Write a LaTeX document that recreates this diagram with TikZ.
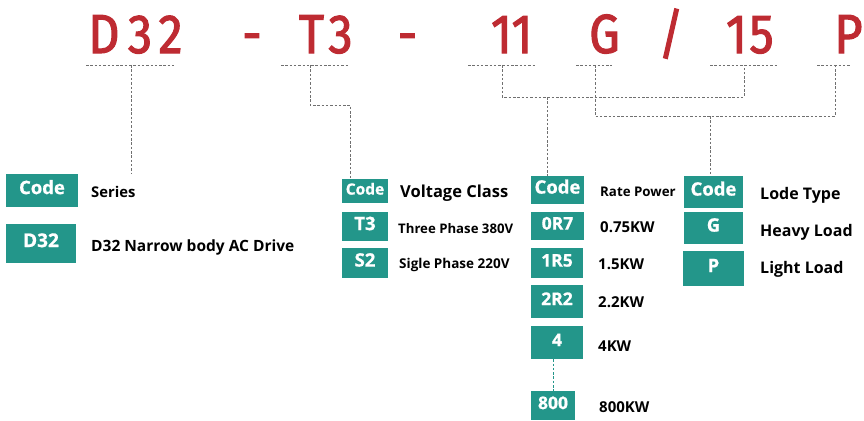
\documentclass[tikz,border=0pt]{standalone}
\usepackage{fontspec}
\setmainfont{Open Sans}
\newfontfamily\redfont[FakeStretch=0.88,FakeBold=2]{Fira Sans}
\newfontfamily\boxfont[BoldFeatures={FakeBold=0.8}]{Open Sans}
\definecolor{codered}{HTML}{BE2B32}
\definecolor{codeteal}{HTML}{23968A}
\definecolor{dashgray}{HTML}{707070}
\newcommand\fsz[1]{\fontsize{#1}{#1}\selectfont}
\begin{document}
\begin{tikzpicture}[x=1pt,y=-1pt,
  redch/.style={anchor=base, inner sep=0, text=codered, font=\redfont\fsz{55}},
  lbl/.style={anchor=base west, inner sep=0, text=black},
  tbox/.style={fill=codeteal, text=white, inner sep=0, text height=0.72em, text depth=0pt},
  dline/.style={draw=dashgray, line width=0.9pt, dash pattern=on 2.5pt off 1.8pt},
  tdline/.style={draw=codeteal, line width=0.9pt, dash pattern=on 2.5pt off 1.8pt}]
\useasboundingbox (0,0) rectangle (864,420);
% red code
\node[redch] (d1) at (104,53) {D};
\node[redch] (d2) at (140,53) {3};
\node[redch] (d3) at (170.5,53) {2};
\node[redch] (m1) at (252,53) {-};
\node[redch] (t1) at (311.5,53) {T};
\node[redch] (t2) at (340.5,53) {3};
\node[redch] (m2) at (407.5,53) {-};
\node[redch] (e1) at (501.5,53) {1};
\node[redch] (e2) at (522,53) {1};
\node[redch] (g1) at (604.5,53) {G};
\node[redch] (sl) at (671,53) {/};
\node[redch] (f1) at (736.5,53) {1};
\node[redch] (f2) at (761.5,53) {5};
\node[redch] (p1) at (848.5,53) {P};
% boxes
\node[tbox, minimum width=72, minimum height=33, font=\boxfont\bfseries\fsz{18.5}] (c1) at (42,190.5) {Code};
\node[tbox, minimum width=70, minimum height=39, font=\boxfont\bfseries\fsz{19}] (b1) at (41,243.5) {D32};
\node[tbox, minimum width=46, minimum height=24, font=\boxfont\bfseries\fsz{15.5}] (c2) at (365,191) {Code};
\node[tbox, minimum width=46, minimum height=29, font=\boxfont\bfseries\fsz{18.5}] (v1) at (365,226.5) {T3};
\node[tbox, minimum width=46, minimum height=30, font=\boxfont\bfseries\fsz{18.5}] (v2) at (365,263) {S2};
\node[tbox, minimum width=53, minimum height=28, font=\boxfont\bfseries\fsz{18.5}] (c3) at (557.5,190) {Code};
\node[tbox, minimum width=53, minimum height=28, font=\boxfont\bfseries\fsz{17.5}] (r1) at (557.5,226) {0R7};
\node[tbox, minimum width=52, minimum height=30, font=\boxfont\bfseries\fsz{17.5}] (r2) at (557,263) {1R5};
\node[tbox, minimum width=52, minimum height=33, font=\boxfont\bfseries\fsz{17.5}] (r3) at (557,301.5) {2R2};
\node[tbox, minimum width=52, minimum height=33, font=\boxfont\bfseries\fsz{17.5}] (r4) at (557,342.5) {4};
\node[tbox, minimum width=44, minimum height=29, font=\boxfont\bfseries\fsz{17.5}] (r5) at (553,405.5) {800};
\node[tbox, minimum width=59, minimum height=32, font=\boxfont\bfseries\fsz{18.5}] (c4) at (713.5,192) {Code};
\node[tbox, minimum width=59, minimum height=32, font=\boxfont\bfseries\fsz{18.5}] (l1) at (713.5,228) {G};
\node[tbox, minimum width=61, minimum height=35, font=\boxfont\bfseries\fsz{18.5}] (l2) at (713.5,268.5) {P};
% labels
\node[lbl, font=\bfseries\fsz{14.8}] (ser) at (91,197) {Series};
\node[lbl, font=\bfseries\fsz{15.5}] (b1t) at (91,251) {D32 Narrow body AC Drive};
\node[lbl, font=\bfseries\fsz{16.5}] (vc) at (400,197) {Voltage Class};
\node[lbl, font=\bfseries\fsz{13.2}] (v1t) at (398,233) {Three Phase 380V};
\node[lbl, font=\bfseries\fsz{13.5}] (v2t) at (399,268) {Sigle Phase 220V};
\node[lbl, font=\bfseries\fsz{13.3}] (rp) at (600,196) {Rate Power};
\node[lbl, font=\bfseries\fsz{15}] (r1t) at (600,232) {0.75KW};
\node[lbl, font=\bfseries\fsz{15}] (r2t) at (598,269) {1.5KW};
\node[lbl, font=\bfseries\fsz{15}] (r3t) at (598,307) {2.2KW};
\node[lbl, font=\bfseries\fsz{15}] (r4t) at (598,351) {4KW};
\node[lbl, font=\bfseries\fsz{15}] (r5t) at (599,412) {800KW};
\node[lbl, font=\bfseries\fsz{16}] (lt) at (760,199) {Lode Type};
\node[lbl, font=\bfseries\fsz{16}] (l1t) at (760,236) {Heavy Load};
\node[lbl, font=\bfseries\fsz{16}] (l2t) at (760,273) {Light Load};
% underline coordinates
\coordinate (uD1) at (86,65); \coordinate (uD2) at (174,65); \coordinate (sD) at (131,65);
\coordinate (uT1) at (281,65); \coordinate (uT2) at (348,65); \coordinate (sT) at (310,65);
\coordinate (uE1) at (468,65); \coordinate (uE2) at (535,65); \coordinate (sE) at (502,65);
\coordinate (uG1) at (576,65); \coordinate (uG2) at (612,65); \coordinate (sG) at (595,65);
\coordinate (uF1) at (710,65); \coordinate (uF2) at (777,65); \coordinate (sF) at (744,65);
\coordinate (uP1) at (817,65); \coordinate (uP2) at (851,65); \coordinate (sP) at (835,65);
\coordinate (kT) at (350,105);
\coordinate (j1) at (547,97);
\coordinate (j2) at (710,116);
% connectors
\draw[dline] (uD1) -- (uD2);
\draw[dline] (uT1) -- (uT2);
\draw[dline] (uE1) -- (uE2);
\draw[dline] (uG1) -- (uG2);
\draw[dline] (uF1) -- (uF2);
\draw[dline] (uP1) -- (uP2);
\draw[dline] (sD) -- (sD |- c1.north);
\draw[dline] (sT) |- (kT) -- (kT |- c2.north);
\draw[dline] (sE) |- (j1) -| (sF);
\draw[dline] (j1) -- (j1 |- c3.north);
\draw[dline] (sG) |- (j2) -| (sP);
\draw[dline] (j2) -- (j2 |- c4.north);
\draw[tdline] (r5.north |- r4.south) -- (r5.north);
\end{tikzpicture}
\end{document}
